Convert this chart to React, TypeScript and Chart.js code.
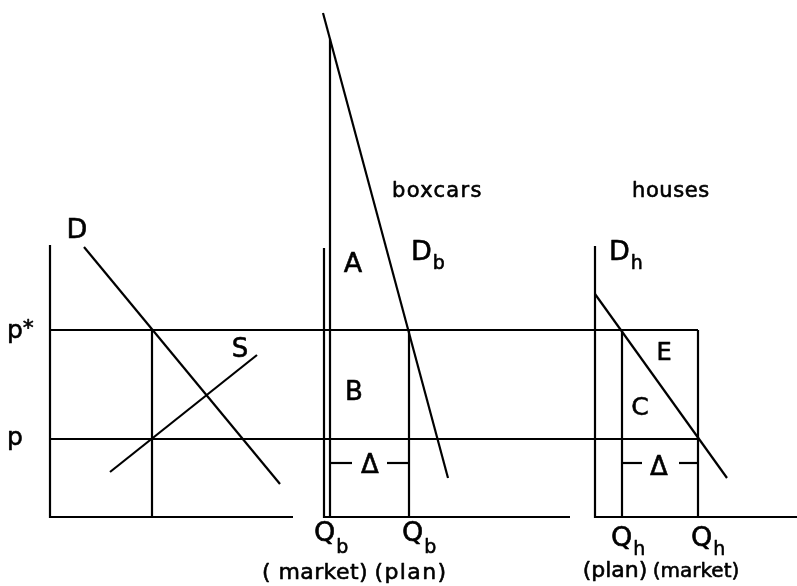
import React, { useEffect, useRef } from "react";
import { Chart, registerables } from "chart.js";

Chart.register(...registerables);

// ---- diagram data (x: quantity units, y: price units; y grows upward) ----
const BASE = 69;
const P_STAR = 256;
const P_LOW = 147;
const DELTA_Y = 123;

// left panel (aggregate market)
const leftAxis = [{ x: 50, y: 341 }, { x: 50, y: BASE }, { x: 293, y: BASE }];
const demandD = [{ x: 84, y: 339 }, { x: 280, y: 102 }];
const supplyS = [{ x: 110, y: 114 }, { x: 257, y: 231 }];
const leftQ = [{ x: 152, y: P_STAR }, { x: 152, y: BASE }];

// price lines across all panels
const pStarLine = [{ x: 50, y: P_STAR }, { x: 698, y: P_STAR }];
const pLine = [{ x: 50, y: P_LOW }, { x: 698, y: P_LOW }];

// boxcars panel
const boxAxis = [{ x: 324, y: 338 }, { x: 324, y: BASE }, { x: 570, y: BASE }];
const boxMarket = [{ x: 330, y: 547 }, { x: 330, y: BASE }];
const demandDb = [{ x: 323, y: 573 }, { x: 448, y: 108 }];
const boxPlan = [{ x: 409, y: P_STAR }, { x: 409, y: BASE }];
const boxDeltaL = [{ x: 330, y: DELTA_Y }, { x: 352, y: DELTA_Y }];
const boxDeltaR = [{ x: 387, y: DELTA_Y }, { x: 409, y: DELTA_Y }];

// houses panel
const houseAxis = [{ x: 595, y: 340 }, { x: 595, y: BASE }, { x: 797, y: BASE }];
const demandDh = [{ x: 595, y: 292 }, { x: 727, y: 108 }];
const housePlan = [{ x: 622, y: P_STAR }, { x: 622, y: BASE }];
const houseMarket = [{ x: 698, y: P_STAR }, { x: 698, y: BASE }];
const houseDeltaL = [{ x: 622, y: DELTA_Y }, { x: 642, y: DELTA_Y }];
const houseDeltaR = [{ x: 679, y: DELTA_Y }, { x: 698, y: DELTA_Y }];

const segments = [
  leftAxis, demandD, supplyS, leftQ, pStarLine, pLine,
  boxAxis, boxMarket, demandDb, boxPlan, boxDeltaL, boxDeltaR,
  houseAxis, demandDh, housePlan, houseMarket, houseDeltaL, houseDeltaR,
];

// ---- text annotations ----
type Label = {
  text: string; x: number; y: number; size: number; align: CanvasTextAlign;
  sub?: string; subDy?: number; sup?: string; ls?: number;
};
const CAP = 27;
const LOW = 21;
const SUB = 19;
const labels: Label[] = [
  { text: "D", x: 77, y: 348, size: CAP, align: "center" },
  { text: "S", x: 240, y: 229, size: CAP - 1, align: "center" },
  { text: "p", x: 7, y: 248, size: LOW + 4, align: "left", sup: "*" },
  { text: "p", x: 7, y: 141, size: LOW + 4, align: "left" },
  { text: "boxcars", x: 392, y: 389, size: LOW, align: "left", ls: 1.3 },
  { text: "houses", x: 632, y: 389, size: LOW, align: "left", ls: 0.6 },
  { text: "A", x: 353, y: 314, size: CAP, align: "center" },
  { text: "D", x: 411, y: 326, size: CAP, align: "left", sub: "b", subDy: 9 },
  { text: "B", x: 354, y: 186, size: CAP - 1, align: "center" },
  { text: "Δ", x: 370, y: 113, size: 26, align: "center" },
  { text: "D", x: 609, y: 326, size: CAP, align: "left", sub: "h", subDy: 9 },
  { text: "E", x: 664, y: 226, size: CAP - 3, align: "center" },
  { text: "C", x: 640, y: 171, size: CAP - 2, align: "center" },
  { text: "Δ", x: 659, y: 111, size: 26, align: "center" },
  { text: "Q", x: 314, y: 45, size: CAP, align: "left", sub: "b", subDy: 12 },
  { text: "Q", x: 402, y: 45, size: CAP, align: "left", sub: "b", subDy: 12 },
  { text: "Q", x: 611, y: 40, size: CAP, align: "left", sub: "h", subDy: 9 },
  { text: "Q", x: 691, y: 40, size: CAP, align: "left", sub: "h", subDy: 9 },
  { text: "( market)", x: 315, y: 7, size: 22, align: "center", ls: 0.4 },
  { text: "(plan)", x: 411, y: 7, size: 22, align: "center", ls: 1.4 },
  { text: "(plan)", x: 615, y: 9, size: 22, align: "center", ls: 0 },
  { text: "(market)", x: 696, y: 9, size: 20, align: "center", ls: 0 },
];

const FONT = '"DejaVu Sans", "Liberation Sans", sans-serif';

const labelPlugin = {
  id: "diagramLabels",
  afterDatasetsDraw(chart: any) {
    const { ctx, scales } = chart;
    ctx.save();
    ctx.fillStyle = "#000";
    ctx.strokeStyle = "#000";
    ctx.lineWidth = 0.6;
    ctx.lineJoin = "round";
    ctx.textBaseline = "alphabetic";
    const draw = (t: string, x: number, y: number) => {
      ctx.fillText(t, x, y);
      ctx.strokeText(t, x, y);
    };
    for (const l of labels) {
      const px = scales.x.getPixelForValue(l.x);
      const py = scales.y.getPixelForValue(l.y);
      ctx.font = `${l.size}px ${FONT}`;
      (ctx as any).letterSpacing = `${l.ls ?? 0}px`;
      ctx.textAlign = l.align;
      draw(l.text, px, py);
      const w = ctx.measureText(l.text).width;
      const right = l.align === "left" ? px + w : l.align === "center" ? px + w / 2 : px;
      (ctx as any).letterSpacing = "0px";
      if (l.sub) {
        ctx.font = `${SUB}px ${FONT}`;
        ctx.textAlign = "left";
        draw(l.sub, right + 1, py + (l.subDy ?? 8));
      }
      if (l.sup) {
        ctx.font = `${SUB + 3}px ${FONT}`;
        ctx.textAlign = "left";
        draw(l.sup, right, py - 3);
      }
    }
    ctx.restore();
  },
};

export default function App() {
  const ref = useRef<HTMLCanvasElement | null>(null);
  useEffect(() => {
    if (!ref.current) return;
    const chart = new Chart(ref.current, {
      type: "scatter",
      data: {
        datasets: segments.map((pts) => ({
          data: pts,
          showLine: true,
          borderColor: "#000",
          borderWidth: 2.2,
          pointRadius: 0,
          pointHoverRadius: 0,
          fill: false,
          tension: 0,
          borderCapStyle: "butt" as CanvasLineCap,
          borderJoinStyle: "miter" as CanvasLineJoin,
        })),
      },
      options: {
        animation: false,
        responsive: false,
        maintainAspectRatio: false,
        layout: { padding: 0 },
        plugins: { legend: { display: false }, tooltip: { enabled: false } },
        events: [],
        scales: {
          x: { type: "linear", min: 0, max: 797, display: false },
          y: { type: "linear", min: 0, max: 586, display: false },
        },
      },
      plugins: [labelPlugin],
    });
    return () => chart.destroy();
  }, []);
  return (
    <div style={{ position: "fixed", left: 0, top: 0, width: 797, height: 586, background: "#fff" }}>
      <canvas ref={ref} width={797} height={586} style={{ display: "block", width: 797, height: 586 }} />
    </div>
  );
}
